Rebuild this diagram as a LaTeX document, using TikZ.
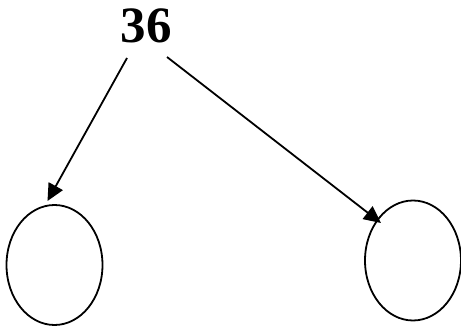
\documentclass[tikz,border=0pt]{standalone}
\usepackage{fontspec}
\setmainfont{Liberation Serif}[BoldFont={Liberation Serif Bold}]
\usetikzlibrary{shapes.geometric,arrows.meta}
\begin{document}
\begin{tikzpicture}[x=1pt,y=-1pt,
  leaf/.style={draw, line width=1.8pt, ellipse, minimum width=96pt, minimum height=120pt, inner sep=0pt},
  link/.style={line width=1.8pt, -{Triangle[length=17pt,width=16pt]}}]
\useasboundingbox (0,0) rectangle (461,329);
\node[font=\fontsize{51}{51}\selectfont\bfseries, inner sep=0pt] (top) at (146,26) {36};
\node[leaf] (L) at (54.5,265) {};
\node[leaf] (R) at (413,260.5) {};
\coordinate (s1) at (127,58);
\coordinate (s2) at (167,57);
\coordinate (t1) at (47.5,201);
\coordinate (t2) at (381,223);
\draw[link] (s1) -- (t1);
\draw[link] (s2) -- (t2);
\end{tikzpicture}
\end{document}
